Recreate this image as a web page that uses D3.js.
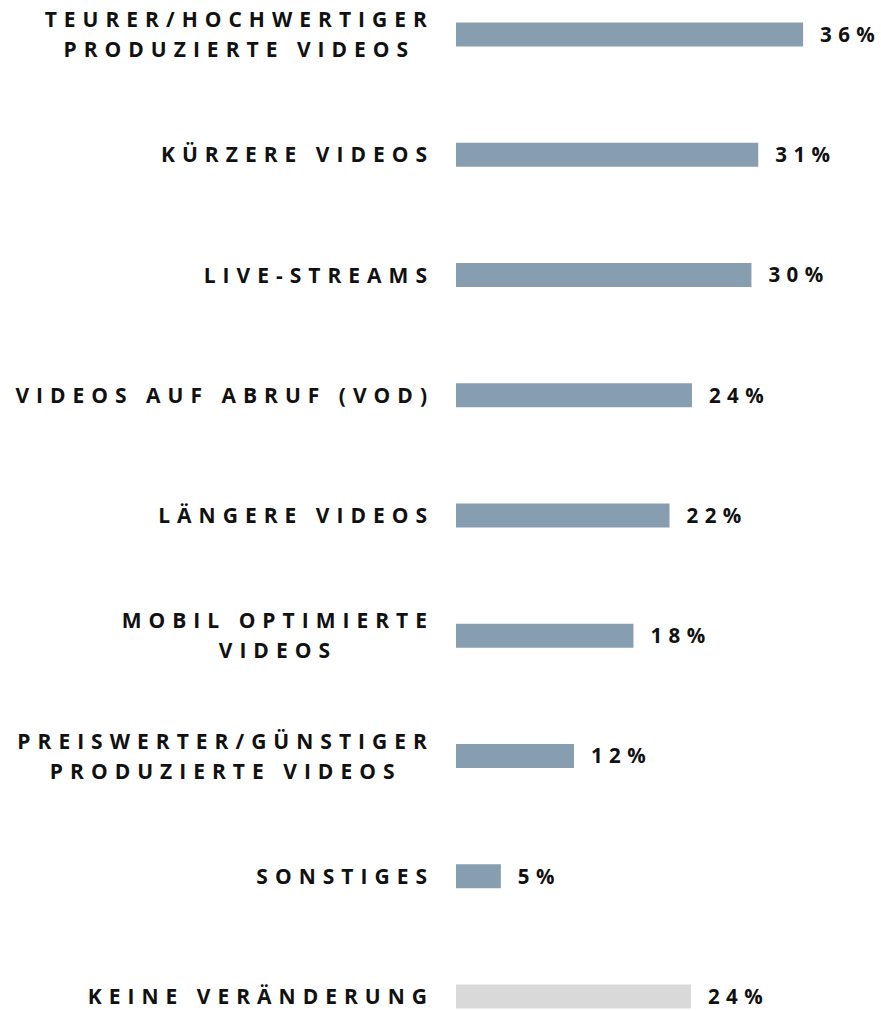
<!DOCTYPE html>
<html>
<head>
    <meta charset="utf-8">
    <title>Video-Trends</title>
    <script src="https://d3js.org/d3.v7.min.js"></script>
    <style>
        body { margin: 0; padding: 0; background: #fff; }
        text { font-family: "Open Sans", "Noto Sans", sans-serif; font-weight: 700; fill: #111; }
    </style>
</head>
<body>
    <div id="chart"></div>

    <script>
// Kategorien (Zeilen mit \n werden zweizeilig gesetzt)
const categories = [
  "TEURER/HOCHWERTIGER\nPRODUZIERTE VIDEOS",
  "KÜRZERE VIDEOS",
  "LIVE-STREAMS",
  "VIDEOS AUF ABRUF (VOD)",
  "LÄNGERE VIDEOS",
  "MOBIL OPTIMIERTE\nVIDEOS",
  "PREISWERTER/GÜNSTIGER\nPRODUZIERTE VIDEOS",
  "SONSTIGES",
  "KEINE VERÄNDERUNG"
];

// Werte in Prozent (aus der Grafik geschätzt)
const values = [35.6, 31.0, 30.3, 24.2, 21.9, 18.2, 12.1, 4.6, 24.1];

// letzte Zeile ist grau
const highlight = [true, true, true, true, true, true, true, true, false];

const width = 881;
const height = 1011;

const barColor = "#879eb0";
const greyColor = "#d9d9d9";
const ls = 7.0;        // Buchstabenabstand Kategorien
const lsVal = 6.4;     // Buchstabenabstand Werte
const labelRight = 427;

const svg = d3.select("#chart")
  .append("svg")
    .attr("width", width)
    .attr("height", height);

const x = d3.scaleLinear()
  .domain([0, 40])
  .range([456, 456 + 390]);

const y = d3.scalePoint()
  .domain(categories)
  .range([34.5, 996.5]);

const barH = 24;

// gesperrter Text über tspans (kein Abstand nach dem letzten Zeichen)
function spaced(sel, str, gap) {
  sel.selectAll("tspan")
    .data(Array.from(str))
    .join("tspan")
      .attr("dx", (c, k) => k ? gap : 0)
      .text(c => c);
}

// Balken
svg.selectAll("rect.bar")
  .data(categories)
  .join("rect")
    .attr("class", "bar")
    .attr("x", x(0))
    .attr("y", d => y(d) - barH / 2)
    .attr("width", (d, i) => x(values[i]) - x(0))
    .attr("height", barH)
    .attr("fill", (d, i) => highlight[i] ? barColor : greyColor);

// Wertbeschriftung
svg.selectAll("text.val")
  .data(categories)
  .join("text")
    .attr("class", "val")
    .attr("x", (d, i) => x(values[i]) + 17)
    .attr("y", d => y(d))
    .attr("dy", "0.36em")
    .style("font-size", "20.5px")
    .each(function(d, i) { spaced(d3.select(this), Math.round(values[i]) + "%", lsVal); });

// Kategorie-Beschriftungen: Block rechtsbündig, Zeilen zentriert
const lineH = 30;
categories.forEach(cat => {
  const lines = cat.split("\n");
  const g = svg.append("g");
  const texts = lines.map((ln, j) => {
    const t = g.append("text")
      .attr("x", 0)
      .attr("y", y(cat) + (j - (lines.length - 1) / 2) * lineH)
      .attr("dy", "0.36em")
      .style("font-size", "21px");
    spaced(t, ln, ls);
    return t;
  });
  const widths = texts.map(t => t.node().getBBox().width);
  const maxW = d3.max(widths);
  const cx = labelRight - maxW / 2;
  texts.forEach((t, j) => t.attr("x", cx - widths[j] / 2));
});
    </script>
</body>
</html>
